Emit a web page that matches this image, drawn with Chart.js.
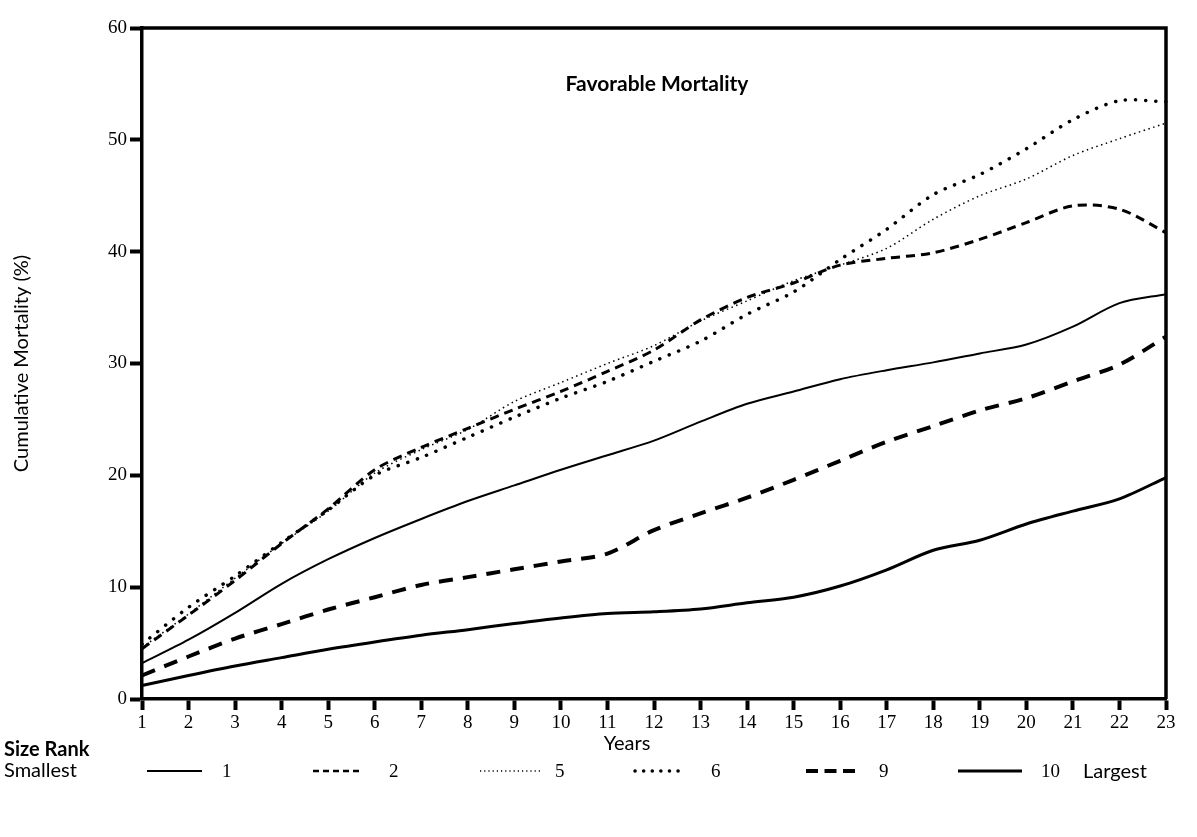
<!DOCTYPE html>
<html>
<head>
<meta charset="utf-8">
<script src="https://cdn.jsdelivr.net/npm/chart.js@4/dist/chart.umd.min.js"></script>
<style>
  html, body { margin: 0; padding: 0; background: #fff; }
  #wrap { width: 1197px; height: 837px; }
</style>
</head>
<body>
<div id="wrap"><canvas id="chart"></canvas></div>
<script>
// values (cumulative mortality %, years 1..23)
const years = ["1","2","3","4","5","6","7","8","9","10","11","12","13","14","15","16","17","18","19","20","21","22","23"];
const yTicks = [0, 10, 20, 30, 40, 50, 60];

const rank1  = [3.2, 5.3, 7.7, 10.3, 12.5, 14.4, 16.1, 17.7, 19.1, 20.5, 21.8, 23.1, 24.8, 26.4, 27.5, 28.6, 29.4, 30.1, 30.9, 31.7, 33.3, 35.4, 36.2];
const rank2  = [4.5, 7.5, 10.6, 13.9, 17.0, 20.5, 22.5, 24.2, 25.9, 27.5, 29.3, 31.2, 33.9, 35.9, 37.2, 38.8, 39.4, 39.9, 41.1, 42.6, 44.1, 43.8, 41.7];
const rank5  = [4.6, 7.6, 10.8, 13.9, 16.8, 20.2, 22.3, 24.1, 26.6, 28.3, 30.0, 31.6, 33.8, 35.6, 37.4, 38.8, 40.3, 42.9, 45.0, 46.5, 48.6, 50.1, 51.5];
const rank6  = [4.9, 8.2, 11.0, 14.0, 16.9, 20.0, 21.6, 23.4, 25.2, 26.9, 28.4, 30.2, 32.0, 34.4, 36.4, 39.3, 42.0, 45.1, 46.9, 49.2, 51.8, 53.5, 53.4];
const rank9  = [2.1, 3.8, 5.4, 6.7, 8.0, 9.1, 10.2, 10.9, 11.6, 12.3, 13.0, 15.1, 16.6, 18.0, 19.6, 21.3, 23.0, 24.4, 25.8, 26.9, 28.4, 29.9, 32.4];
const rank10 = [1.2, 2.1, 2.95, 3.7, 4.45, 5.1, 5.7, 6.2, 6.75, 7.25, 7.65, 7.8, 8.05, 8.6, 9.1, 10.1, 11.55, 13.3, 14.2, 15.65, 16.8, 17.9, 19.8];

const TEXT_FONT = "Lato, 'Open Sans', sans-serif";
const NUM_FONT = "'Liberation Serif', 'DejaVu Serif', serif";

// frame (top/right border), inner title, x title and the bottom legend row
const figurePlugin = {
    id: 'figure',
    afterDraw(chart) {
        const { ctx, chartArea: { left, top, right, bottom } } = chart;
        ctx.save();
        ctx.strokeStyle = '#000';
        ctx.lineWidth = 3.5;
        ctx.beginPath();
        ctx.moveTo(left, top);
        ctx.lineTo(right, top);
        ctx.lineTo(right, bottom);
        ctx.stroke();

        ctx.fillStyle = '#000';
        ctx.textBaseline = 'middle';
        ctx.textAlign = 'center';
        ctx.font = `bold 21px ${TEXT_FONT}`;
        ctx.fillText('Favorable Mortality', 657, 84);
        ctx.font = `20px ${TEXT_FONT}`;
        ctx.fillText('Years', 627, 744);

        // legend (the printed key uses slightly different dash spacing than the curves)
        ctx.textAlign = 'left';
        ctx.font = `bold 20px ${TEXT_FONT}`;
        ctx.fillText('Size Rank', 4, 750);
        ctx.font = `20px ${TEXT_FONT}`;
        ctx.fillText('Smallest', 4, 771);
        const sampleX = [147, 313, 480, 635, 806, 958];
        const sampleLen = [55, 50, 61, 47, 49, 64];
        const sampleDash = [[], [6, 4], [1.2, 3], [0.1, 8.5], [12, 6.5], []];
        const labelX = [222, 389, 555, 711, 879, 1041];
        chart.data.datasets.forEach((ds, i) => {
            const x = sampleX[i], y = 771;
            ctx.beginPath();
            ctx.setLineDash(sampleDash[i]);
            ctx.lineWidth = i == 1 ? 2.5 : ds.borderWidth;
            ctx.lineCap = ds.borderCapStyle || 'butt';
            ctx.moveTo(x, y);
            ctx.lineTo(x + sampleLen[i], y);
            ctx.stroke();
            ctx.setLineDash([]);
            ctx.font = `19px ${NUM_FONT}`;
            ctx.fillText(ds.label, labelX[i], y + 1);
        });
        ctx.font = `20px ${TEXT_FONT}`;
        ctx.fillText('Largest', 1083, 772);
        ctx.restore();
    }
};

const mk = (label, data, width, dash, cap) => ({
    label, data,
    borderColor: '#000',
    borderWidth: width,
    borderDash: dash,
    borderCapStyle: cap || 'butt',
    pointRadius: 0,
    tension: 0.3,
    fill: false
});

const datasets = [
    mk('1', rank1, 2, []),
    mk('2', rank2, 3, [9, 6]),
    mk('5', rank5, 1.5, [1.5, 3.5]),
    mk('6', rank6, 3.5, [0.1, 10], 'round'),
    mk('9', rank9, 4, [14, 10]),
    mk('10', rank10, 3, [])
];

const ctx = document.getElementById('chart').getContext('2d');
const chart = new Chart(ctx, {
    type: 'line',
    data: { labels: years, datasets },
    plugins: [figurePlugin],
    options: {
        responsive: true,
        maintainAspectRatio: false,
        animation: false,
        layout: { padding: { left: 0, right: 31, top: 28, bottom: 78 } },
        plugins: {
            legend: { display: false },
            tooltip: { enabled: false }
        },
        scales: {
            x: {
                offset: false,
                border: { color: '#000', width: 3.5 },
                grid: { drawOnChartArea: false, drawTicks: true, tickLength: 11, tickWidth: 4, tickColor: '#000' },
                ticks: { color: '#000', font: { family: NUM_FONT, size: 19 }, padding: 2, maxRotation: 0, autoSkip: false },
                afterFit: (scale) => { scale.height = 60; }
            },
            y: {
                min: 0,
                max: 60,
                afterBuildTicks: (scale) => { scale.ticks = yTicks.map(v => ({ value: v })); },
                border: { color: '#000', width: 3.5 },
                grid: { drawOnChartArea: false, drawTicks: true, tickLength: 12, tickWidth: 4, tickColor: '#000' },
                ticks: { color: '#000', font: { family: NUM_FONT, size: 19 }, padding: 3 },
                title: { display: true, text: 'Cumulative Mortality (%)', color: '#000', font: { family: TEXT_FONT, size: 20 }, padding: { top: 10, bottom: 0 } },
                afterFit: (scale) => { scale.width = 142; }
            }
        }
    }
});
</script>
</body>
</html>
